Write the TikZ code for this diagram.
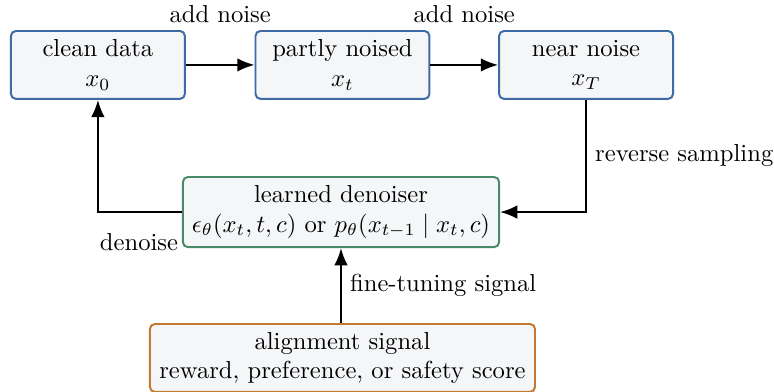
\documentclass[tikz,border=0pt]{standalone}
\usetikzlibrary{arrows.meta}
\definecolor{bblue}{RGB}{62,106,166}
\definecolor{bgreen}{RGB}{74,138,104}
\definecolor{borange}{RGB}{196,120,48}
\definecolor{bfill}{RGB}{244,246,248}
\tikzset{
  box/.style={draw, line width=0.8pt, fill=bfill, rounded corners=2pt, align=center, inner sep=2pt},
  bluebox/.style={box, draw=bblue, minimum width=70.7pt, minimum height=27.6pt},
  greenbox/.style={box, draw=bgreen, minimum width=128.5pt, minimum height=28.5pt},
  orangebox/.style={box, draw=borange, minimum width=156.5pt, minimum height=27.6pt},
  conn/.style={line width=0.8pt, -{Latex[length=7pt,width=5.5pt]}},
}
\begin{document}
\begin{tikzpicture}[x=1pt,y=1pt]
\useasboundingbox (0,0) rectangle (314.6,-159.3);
\node[bluebox] (clean) at (39.8,-26.4) {clean data\\$x_0$};
\node[bluebox] (partly) at (139.2,-26.4) {partly noised\\$x_t$};
\node[bluebox] (near) at (238.2,-26.4) {near noise\\$x_T$};
\node[greenbox] (den) at (138.6,-86.2) {learned denoiser\\$\epsilon_\theta(x_t,t,c)$ or $p_\theta(x_{t-1}\mid x_t,c)$};
\node[orangebox] (align) at (139.2,-145.5) {alignment signal\\reward, preference, or safety score};
\draw[conn] (clean) -- node[midway, yshift=20.7pt] {add noise} (partly);
\draw[conn] (partly) -- node[midway, yshift=20.7pt] {add noise} (near);
\draw[conn] (near.south) |- node[pos=0.25, right] {reverse sampling} (den.east);
\draw[conn] (den.west) -| (clean.south);
\node (dlabel) at (56.5,-98.4) {denoise};
\draw[conn] (align.north -| den.south) -- node[midway, right] {fine-tuning signal} (den.south);
\end{tikzpicture}
\end{document}
